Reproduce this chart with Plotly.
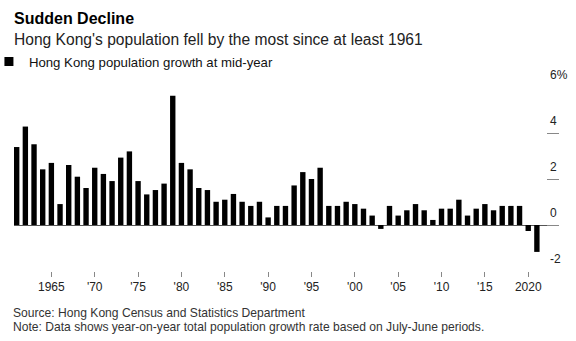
import plotly.graph_objects as go

years = list(range(1961, 2022))
growth = [
    3.39, 4.28, 3.51, 2.42, 2.70, 0.91, 2.61, 2.10, 1.61, 2.49,
    2.22, 1.91, 2.93, 3.20, 1.91, 1.33, 1.52, 1.80, 5.62, 2.70,
    2.42, 1.61, 1.52, 1.01, 1.10, 1.35, 1.01, 0.83, 1.01, 0.33,
    0.83, 0.83, 1.72, 2.30, 2.00, 2.49, 0.83, 0.83, 1.01, 0.91,
    0.71, 0.41, -0.17, 0.83, 0.41, 0.64, 0.91, 0.64, 0.22, 0.71,
    0.71, 1.10, 0.41, 0.71, 0.91, 0.64, 0.83, 0.83, 0.83, -0.26,
    -1.17,
]
x_tickvals = [1965, 1970, 1975, 1980, 1985, 1990, 1995, 2000, 2005, 2010, 2015, 2020]
x_ticktext = ["1965", "'70", "'75", "'80", "'85", "'90", "'95", "'00", "'05", "'10", "'15", "2020"]
y_tickvals = [-2, 0, 2, 4, 6]
y_ticktext = ["-2", "0", "2", "4", "6%"]

title = "Sudden Decline"
subtitle = "Hong Kong's population fell by the most since at least 1961"
series_name = "Hong Kong population growth at mid-year"
source = "Source: Hong Kong Census and Statistics Department"
note = "Note: Data shows year-on-year total population growth rate based on July-June periods."

FONT = "Liberation Sans, Arial, Helvetica, sans-serif"

fig = go.Figure()
fig.add_trace(go.Bar(
    x=years, y=growth, marker=dict(color="#000000", line=dict(width=0)),
    showlegend=False, name=series_name,
))
# legend swatch
fig.add_trace(go.Scatter(
    x=[None], y=[None], mode="markers", name=series_name,
    marker=dict(symbol="square", size=9, color="#000000"),
    showlegend=True,
))

fig.update_layout(
    width=576, height=341,
    margin=dict(l=14, r=17, t=87, b=70, autoexpand=False),
    paper_bgcolor="white", plot_bgcolor="white",
    font=dict(family=FONT, color="#222222", size=12),
    bargap=0.38,
    showlegend=True,
    legend=dict(
        orientation="h", x=-0.046, xanchor="left", y=1.136, yanchor="middle",
        font=dict(size=13.2, color="#111111"), bgcolor="rgba(0,0,0,0)",
        itemwidth=30, tracegroupgap=0,
    ),
    xaxis=dict(
        range=[1960.69, 2023.55], tickvals=x_tickvals, ticktext=x_ticktext,
        ticks="outside", ticklen=5, tickcolor="#888888", tickwidth=1,
        showgrid=False, zeroline=False, showline=False,
        tickfont=dict(size=12, color="#222222"),
    ),
    yaxis=dict(
        range=[-2, 6], tickvals=y_tickvals, ticktext=y_ticktext,
        side="right", ticks="inside", ticklen=12, tickcolor="#888888", tickwidth=1,
        showgrid=False, showline=False,
        zeroline=True, zerolinecolor="#555555", zerolinewidth=1,
        ticklabelshift=-12, ticklabelstandoff=-10,
        tickfont=dict(size=12, color="#222222"),
    ),
    annotations=[
        dict(text="<b>%s</b>" % title, x=0, y=1, xref="paper", yref="paper",
             xanchor="left", yanchor="middle", xshift=-2, yshift=69, showarrow=False,
             font=dict(size=16, color="#000000")),
        dict(text=subtitle, x=0, y=1, xref="paper", yref="paper",
             xanchor="left", yanchor="middle", xshift=-2, yshift=48, showarrow=False,
             font=dict(size=15.6, color="#222222")),
        dict(text=source, x=0, y=0, xref="paper", yref="paper",
             xanchor="left", yanchor="middle", xshift=-2, yshift=-42, showarrow=False,
             borderpad=0, font=dict(size=12.1, color="#333333")),
        dict(text=note, x=0, y=0, xref="paper", yref="paper",
             xanchor="left", yanchor="middle", xshift=-2, yshift=-56, showarrow=False,
             borderpad=0, font=dict(size=12.1, color="#333333")),
    ],
)

fig.write_html("out.html")
